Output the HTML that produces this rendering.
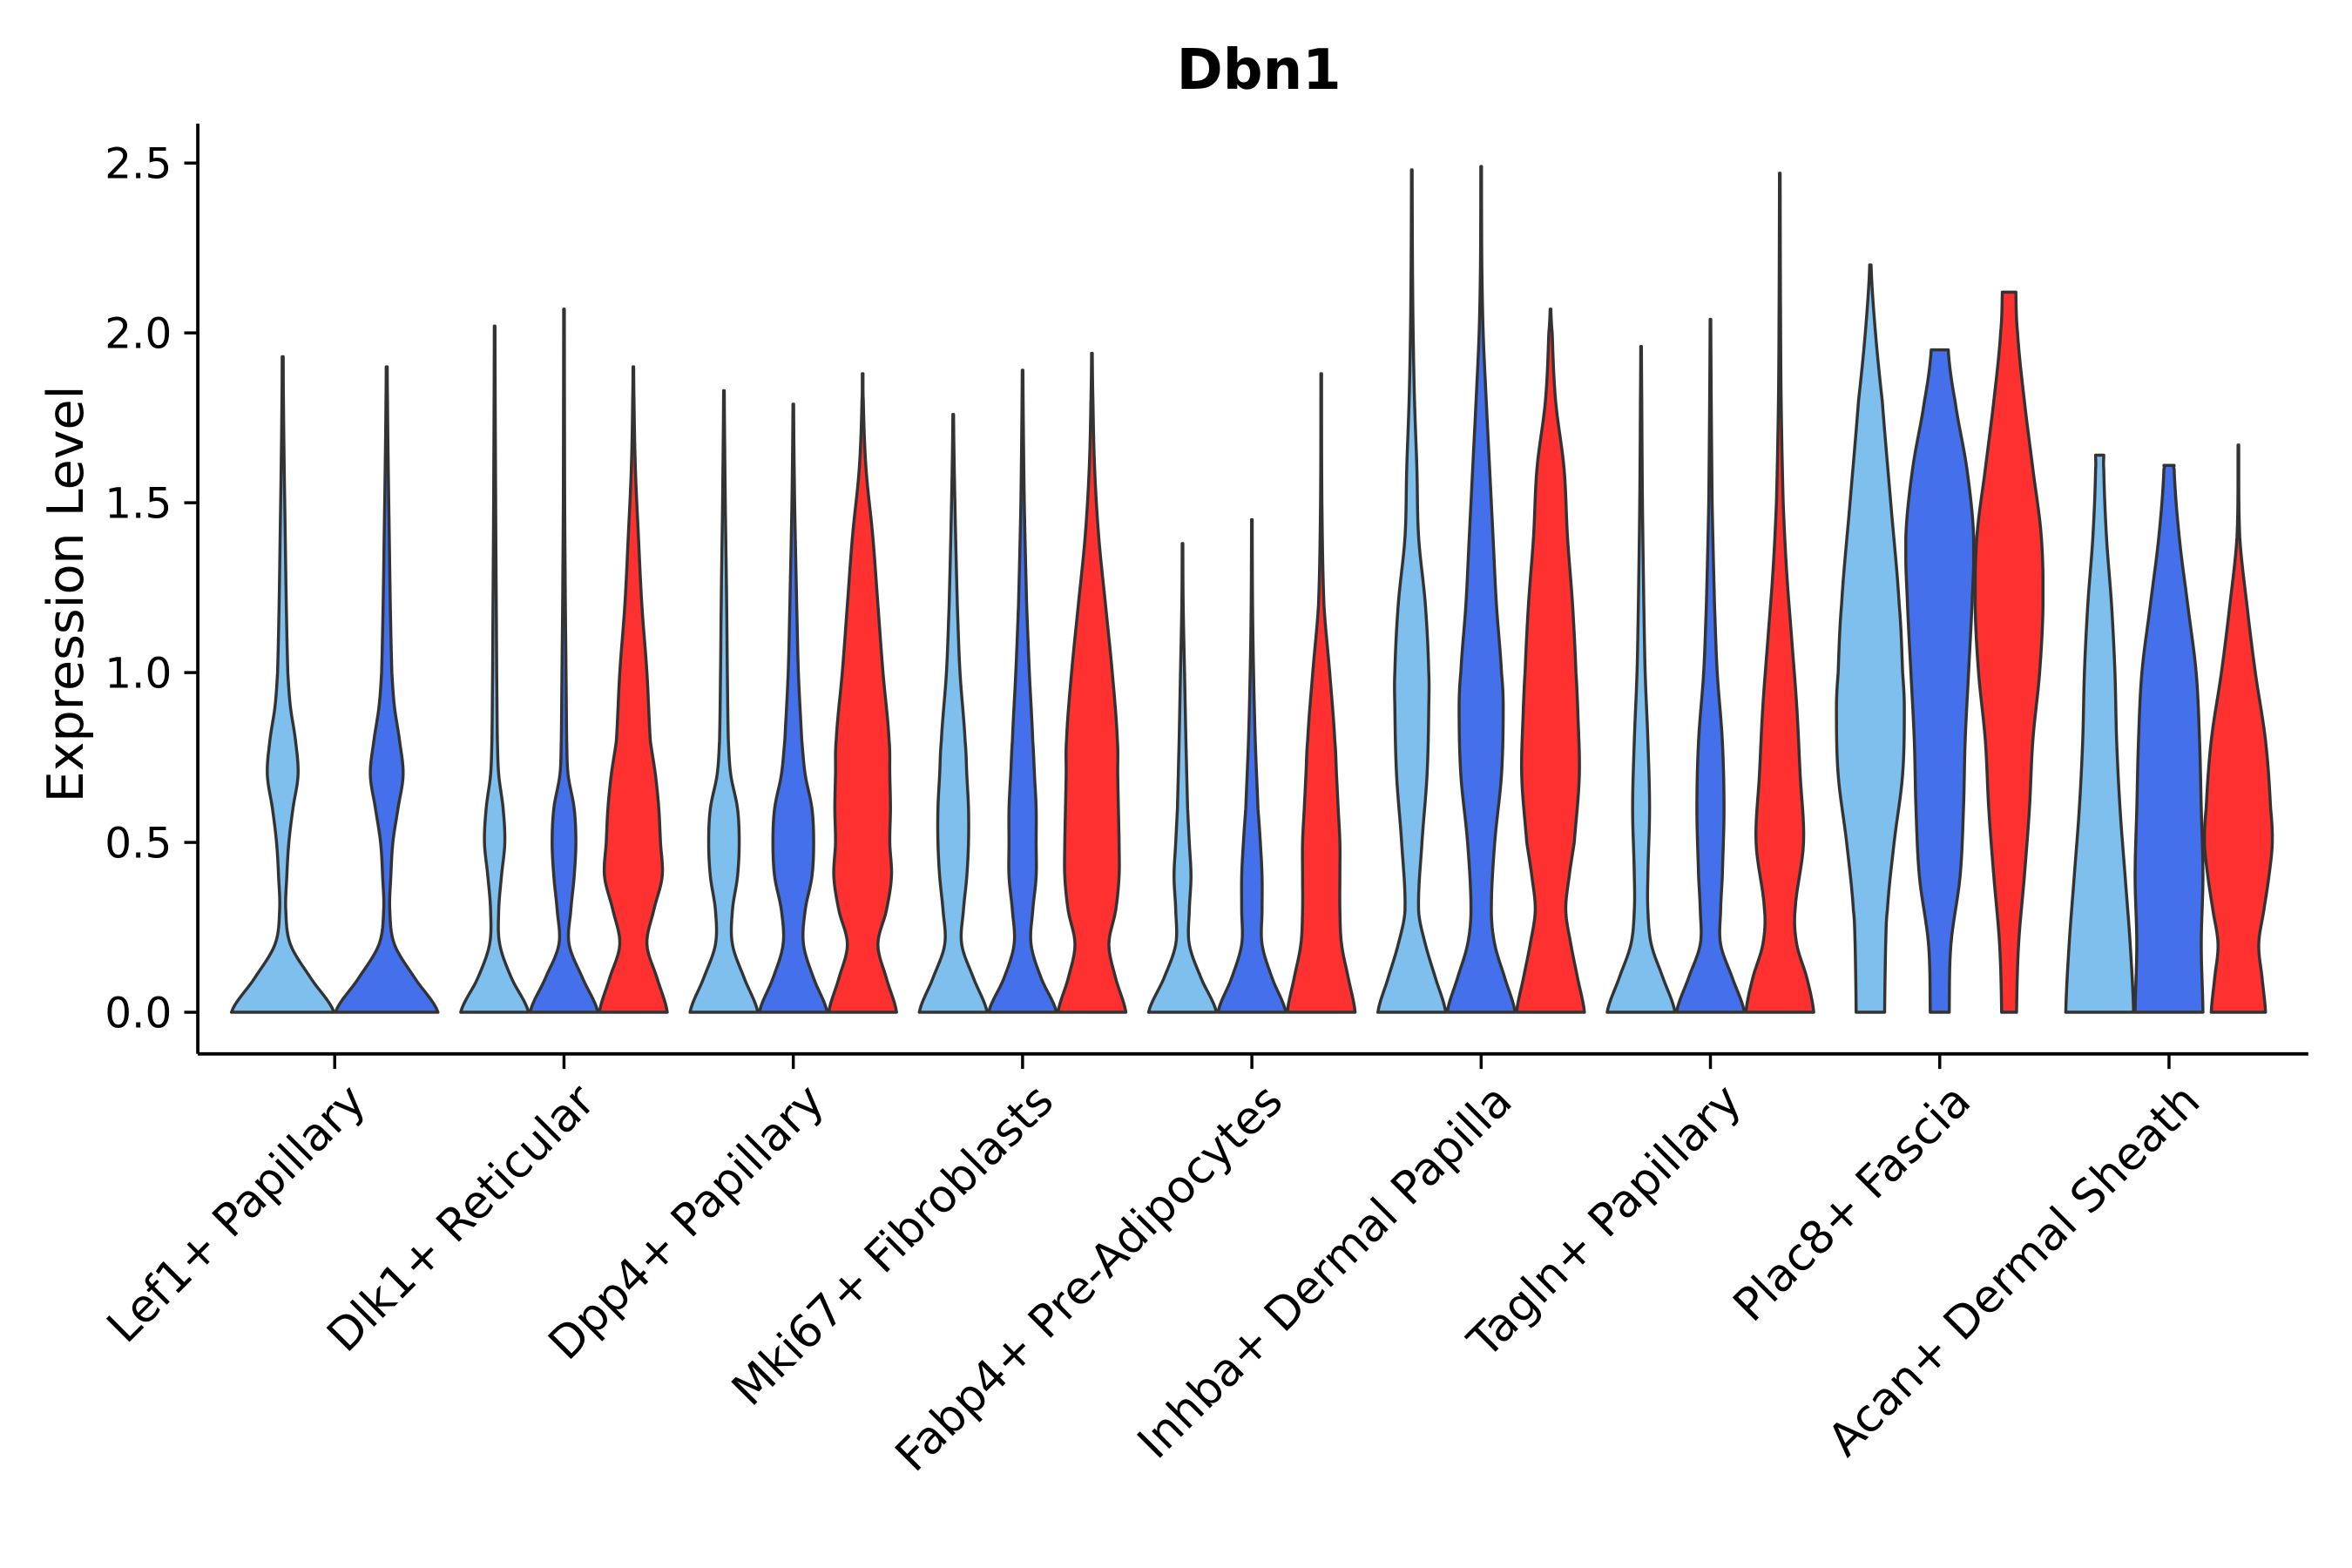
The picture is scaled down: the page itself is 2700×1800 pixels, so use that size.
<!DOCTYPE html>
<html><head><meta charset="utf-8"><style>html,body{margin:0;padding:0;background:#fff}svg{display:block}</style></head>
<body>
<svg id="chart" width="2700" height="1800" viewBox="0 0 1560 1040" xmlns="http://www.w3.org/2000/svg" font-family="DejaVu Sans, Liberation Sans, sans-serif">
<rect width="1560" height="1040" fill="#fff"/>
<text x="835" y="59" text-anchor="middle" font-size="37" font-weight="bold" fill="#000">Dbn1</text>
<text transform="translate(55,394) rotate(-90)" text-anchor="middle" font-size="33" fill="#000">Expression Level</text>
<g id="plot"></g>
</svg>
<script>
const categories = ["Lef1+ Papillary","Dlk1+ Reticular","Dpp4+ Papillary","Mki67+ Fibroblasts","Fabp4+ Pre-Adipocytes","Inhba+ Dermal Papilla","Tagln+ Papillary","Plac8+ Fascia","Acan+ Dermal Sheath"];
const yTicks = [0, 0.5, 1.0, 1.5, 2.0, 2.5];
const yTickLabels = ["0.0","0.5","1.0","1.5","2.0","2.5"];
const groupColors = ["#7fbfee","#4470ec","#ff3030"];
const violinGroups = [[0,1],[0,1,2],[0,1,2],[0,1,2],[0,1,2],[0,1,2],[0,1,2],[0,1,2],[0,1,2]];
const violinMax = [
 [1.93,1.90],[2.02,2.07,1.90],[1.83,1.79,1.88],[1.76,1.89,1.94],[1.38,1.45,1.88],[2.48,2.49,2.07],[1.96,2.04,2.47],[2.20,1.95,2.12],[1.64,1.61,1.67]];
const violinLevels = [
 [[0,.1,.2,.3,.4,.5,.6,.7,.8,.9,1,1.2,1.4,1.6,1.8],[0,.1,.2,.3,.4,.5,.6,.7,.8,.9,1,1.2,1.4,1.6,1.8]],
 [[0,.1,.2,.3,.4,.5,.6,.7,.8,1,1.5],[0,.1,.2,.3,.4,.5,.6,.7,.8,1,1.2,1.5],[0,.1,.2,.3,.4,.5,.6,.7,.8,1,1.2,1.4,1.6,1.8]],
 [[0,.1,.2,.3,.4,.5,.6,.7,.8,1,1.2,1.5],[0,.1,.2,.3,.4,.5,.6,.7,.8,1,1.2,1.5],[0,.1,.2,.3,.4,.5,.6,.7,.8,1,1.2,1.4,1.6,1.8]],
 [[0,.1,.2,.3,.4,.5,.6,.7,.8,1,1.2,1.5],[0,.1,.2,.3,.4,.5,.6,.7,.8,1,1.2,1.5],[0,.1,.2,.3,.4,.5,.6,.7,.8,1,1.2,1.4,1.6,1.8]],
 [[0,.1,.2,.3,.4,.5,.6,.8,1,1.2],[0,.1,.2,.3,.4,.5,.6,.8,1,1.2],[0,.1,.2,.3,.4,.5,.6,.7,.8,1,1.2,1.5]],
 [[0,.1,.2,.3,.5,.7,.9,1,1.2,1.4,1.6,1.8,2,2.2],[0,.1,.2,.3,.5,.7,.9,1,1.2,1.4,1.6,1.8,2,2.2],[0,.1,.2,.3,.4,.5,.7,.9,1,1.2,1.4,1.6,1.8,2]],
 [[0,.1,.2,.3,.4,.6,.8,1,1.2,1.5,1.8],[0,.1,.2,.3,.4,.6,.8,1,1.2,1.5],[0,.1,.2,.3,.5,.7,.9,1.1,1.3,1.5,1.8,2.1]],
 [[0,.2,.3,.5,.7,.9,1,1.2,1.5,1.8,2,2.2],[0,.2,.4,.6,.8,1,1.2,1.4,1.6,1.8,1.95],[0,.2,.4,.6,.8,1,1.2,1.4,1.6,1.8,2,2.12]],
 [[0,.2,.4,.6,.8,1,1.2,1.4,1.6,1.64],[0,.2,.4,.6,.8,1,1.2,1.4,1.6,1.61],[0,.1,.2,.3,.4,.5,.6,.8,1,1.2,1.4,1.67]]];
const violinWidths = [
 [[1,.55,.15,.06,.08,.12,.2,.3,.25,.15,.1,.07,.05,.03,.015],[1,.55,.15,.06,.08,.12,.22,.32,.25,.15,.1,.07,.05,.03,.015]],
 [[1,.5,.15,.12,.2,.3,.25,.12,.08,.06,.03],[1,.55,.15,.2,.3,.35,.3,.12,.08,.06,.04,.02],[1,.7,.4,.6,.85,.8,.75,.65,.5,.4,.25,.15,.06,.02]],
 [[1,.6,.25,.25,.4,.45,.4,.2,.13,.1,.08,.04],[1,.6,.3,.35,.55,.6,.55,.35,.25,.15,.1,.04],[1,.7,.45,.7,.85,.8,.82,.8,.78,.6,.45,.3,.1,.02]],
 [[1,.6,.25,.3,.4,.45,.45,.4,.35,.2,.12,.05],[1,.55,.25,.3,.4,.4,.4,.35,.3,.2,.12,.05],[1,.7,.5,.7,.8,.8,.78,.76,.75,.6,.4,.2,.08,.03]],
 [[1,.55,.2,.2,.25,.2,.15,.1,.06,.02],[1,.6,.3,.3,.3,.25,.18,.1,.05,.02],[1,.8,.6,.55,.55,.55,.5,.45,.4,.25,.08,.02]],
 [[1,.7,.4,.2,.3,.45,.5,.5,.4,.2,.15,.08,.04,.02],[1,.7,.4,.3,.4,.6,.65,.6,.45,.35,.25,.15,.06,.02],[1,.8,.6,.45,.55,.7,.85,.8,.75,.65,.5,.4,.15,.05]],
 [[1,.65,.3,.2,.2,.25,.2,.12,.08,.04,.02],[1,.65,.3,.3,.35,.4,.35,.2,.12,.05],[1,.8,.5,.45,.7,.6,.5,.35,.2,.1,.04,.02]],
 [[.42,.45,.5,.7,.95,1,.95,.85,.6,.35,.15,.02],[.28,.33,.6,.7,.75,.85,.95,1,.8,.45,.25],[.22,.28,.45,.6,.7,.9,1,.95,.7,.45,.25,.2]],
 [[1,.9,.75,.6,.5,.45,.35,.2,.12,.12],[1,.95,1,.95,.9,.8,.55,.3,.15,.15],[.8,.7,.6,.75,.9,1,.95,.8,.5,.25,.04,.01]]];

const NS="http://www.w3.org/2000/svg";
const plot=document.getElementById('plot');
const X0=131.2,X1=1531,Ytop=82,Ybot=699;
const yScale=v=>671.4-v*225.3;
const xCenter=i=>222+i*152.08;
const dodge=138;
function el(tag,attrs){const e=document.createElementNS(NS,tag);for(const k in attrs)e.setAttribute(k,attrs[k]);plot.appendChild(e);return e;}

categories.forEach((cat,i)=>{
  const groups=violinGroups[i];const n=groups.length;const slot=dodge/n;
  groups.forEach((g,j)=>{
    const cx=xCenter(i)-dodge/2+slot*(j+0.5);
    const half=slot/2-0.5;
    const lv=violinLevels[i][j].slice(),wd=violinWidths[i][j].slice();
    const mx=violinMax[i][j];
    if(lv[lv.length-1]<mx){lv.push(mx);wd.push(Math.min(wd[wd.length-1],0.01));}
    const pts=[];
    for(let k=0;k<lv.length-1;k++){
      const p0=wd[Math.max(k-1,0)],p1=wd[k],p2=wd[k+1],p3=wd[Math.min(k+2,wd.length-1)];
      for(let s=0;s<8;s++){const t=s/8;
        const w=0.5*((2*p1)+(-p0+p2)*t+(2*p0-5*p1+4*p2-p3)*t*t+(-p0+3*p1-3*p2+p3)*t*t*t);
        pts.push([lv[k]+(lv[k+1]-lv[k])*t,Math.max(0.008,Math.min(1,w))]);}
    }
    pts.push([lv[lv.length-1],wd[wd.length-1]]);
    const right=pts.map(p=>`${(cx+p[1]*half).toFixed(2)},${yScale(p[0]).toFixed(2)}`);
    const left=pts.slice().reverse().map(p=>`${(cx-p[1]*half).toFixed(2)},${yScale(p[0]).toFixed(2)}`);
    const poly=el('polygon',{points:right.concat(left).join(' '),fill:groupColors[g],stroke:'#333',"stroke-width":2,"stroke-linejoin":"round"});
    
    
  });
  const tk=el('line',{x1:xCenter(i),x2:xCenter(i),y1:Ybot,y2:Ybot+10,stroke:'#000',"stroke-width":2});
  
  
  const tx=el('text',{transform:`translate(${xCenter(i)+22},${Ybot+33}) rotate(-45)`,"text-anchor":"end","font-size":30,fill:'#000'});
  tx.textContent=cat;
  
  
});
yTicks.forEach((v,k)=>{
  const t=el('line',{x1:X0-9,x2:X0,y1:yScale(v),y2:yScale(v),stroke:'#000',"stroke-width":2});
  
  
  const l=el('text',{x:114,y:yScale(v)+10,"text-anchor":"end","font-size":28,fill:'#000'});
  l.textContent=yTickLabels[k];
  
  
});
const ya=el('line',{x1:X0,x2:X0,y1:Ytop,y2:Ybot,stroke:'#000',"stroke-width":2.2});


const xa=el('line',{x1:X0,x2:X1,y1:Ybot,y2:Ybot,stroke:'#000',"stroke-width":2.2});


</script>
</body></html>
